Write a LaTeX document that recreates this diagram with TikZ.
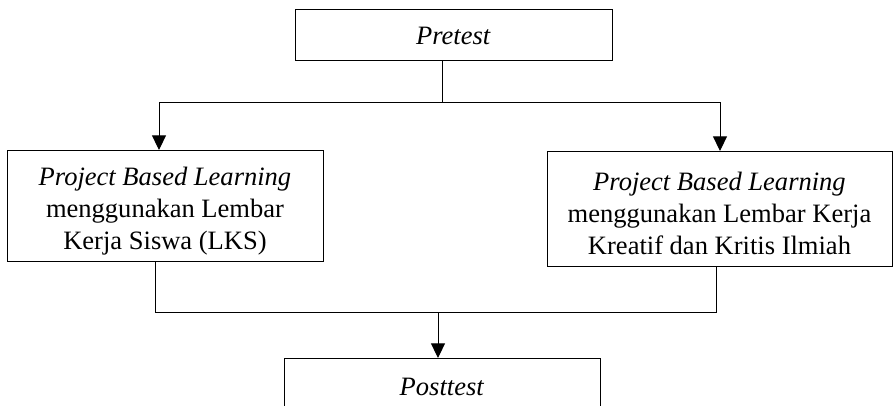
\documentclass[tikz,border=0pt]{standalone}
\usepackage{fontspec}
\setmainfont{Liberation Serif}
\usetikzlibrary{arrows.meta}

\tikzset{every picture/.style={line width=0.75pt}}
\tikzset{
  flowbox/.style={draw, rectangle, inner sep=0pt, align=center,
    font=\fontsize{19.9}{24}\selectfont},
  flowarrow/.style={-{Triangle[length=11pt,width=10.5pt]}}
}

\begin{document}
\begin{tikzpicture}[x=0.75pt,y=0.75pt,yscale=-1,xscale=1]
\useasboundingbox (0,0) rectangle (894,406);

% Text Node
\node [flowbox, minimum width=237.75pt, minimum height=38.25pt] (pre) at (453.5,35.5) {\textit{Pretest}};
% Text Node
\node [flowbox, minimum width=237pt, minimum height=83.25pt] (lks) at (165,206) {\rule{0pt}{21pt}\textit{Project Based Learning}\\menggunakan Lembar\\Kerja Siswa (LKS)};
% Text Node
\node [flowbox, minimum width=258.75pt, minimum height=85.9pt] (lkki) at (719.5,208.75) {\rule{0pt}{21pt}\textit{Project Based Learning}\\menggunakan Lembar Kerja\\Kreatif dan Kritis Ilmiah};
% Text Node
\node [flowbox, anchor=north, minimum width=237pt, minimum height=42pt] (post) at (442,358) {\textit{Posttest}};

%Branch points
\coordinate (split) at (442,102.5);
\coordinate (splitL) at (159,102.5);
\coordinate (splitR) at (720,102.5);
\coordinate (joinL) at (155.7,312.5);
\coordinate (joinR) at (716,312.5);
\coordinate (join) at (438,312.5);

%Straight Lines
\draw (split |- pre.south) -- (split);
\draw [flowarrow] (split) -| (splitL |- lks.north);
\draw [flowarrow] (split) -| (splitR |- lkki.north);
%Straight Lines
\draw (joinL |- lks.south) -- (joinL) -- (joinR) -- (joinR |- lkki.south);
\draw [flowarrow] (join) -- (join |- post.north);

\end{tikzpicture}
\end{document}
